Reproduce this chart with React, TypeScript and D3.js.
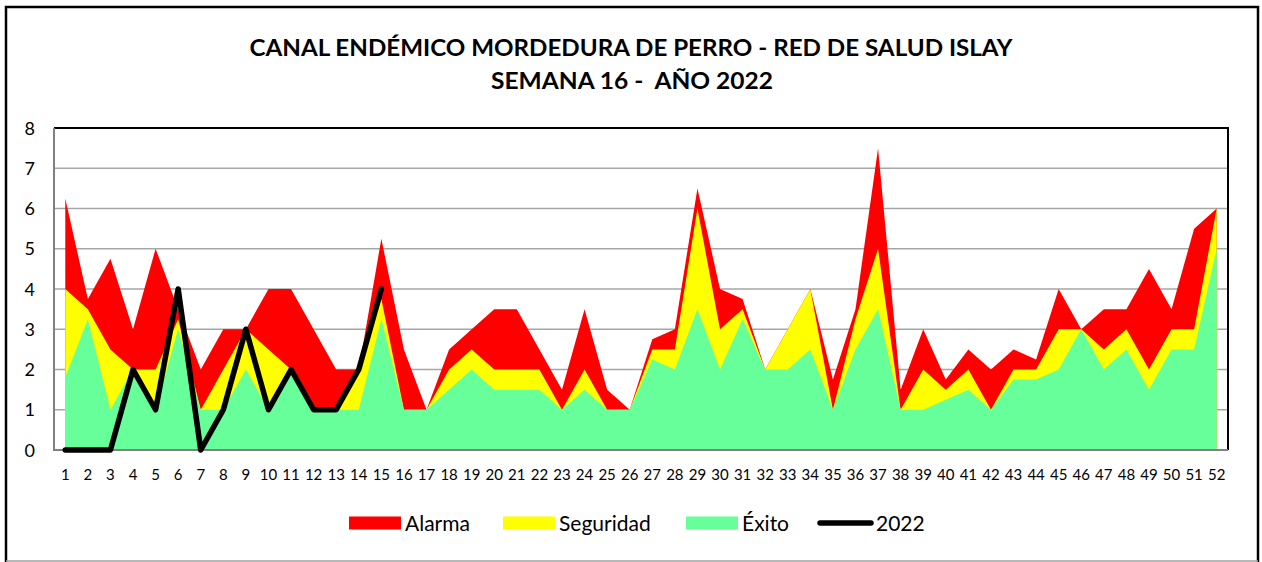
import React, { useRef, useEffect } from "react";
import * as d3 from "d3";

const weeks = d3.range(1, 53);

// tops of each band (cumulative)
const exito = [
  1.8, 3.25, 1, 2, 1, 3, 1, 1, 2, 1, 2, 1, 1, 1, 3.25, 1, 1, 1.5, 2, 1.5,
  1.5, 1.5, 1, 1.5, 1, 1, 2.25, 2, 3.5, 2, 3.25, 2, 2, 2.5, 1, 2.5, 3.5, 1,
  1, 1.25, 1.5, 1, 1.75, 1.75, 2, 3, 2, 2.5, 1.5, 2.5, 2.5, 5,
];
const seguridad = [
  4, 3.5, 2.5, 2, 2, 3.25, 1, 2, 3, 2.5, 2, 1, 1, 2, 3.75, 1, 1, 2, 2.5, 2,
  2, 2, 1, 2, 1, 1, 2.5, 2.5, 6, 3, 3.5, 2, 3, 4, 1, 3.25, 5, 1, 2, 1.5, 2,
  1, 2, 2, 3, 3, 2.5, 3, 2, 3, 3, 6,
];
const alarma = [
  6.25, 3.75, 4.75, 3, 5, 3.5, 2, 3, 3, 4, 4, 3, 2, 2, 5.25, 2.5, 1, 2.5, 3,
  3.5, 3.5, 2.5, 1.5, 3.5, 1.5, 1, 2.75, 3, 6.5, 4, 3.75, 2, 3, 4, 1.75, 3.5,
  7.5, 1.5, 3, 1.75, 2.5, 2, 2.5, 2.25, 4, 3, 3.5, 3.5, 4.5, 3.5, 5.5, 6,
];
const casos2022 = [0, 0, 0, 2, 1, 4, 0, 1, 3, 1, 2, 1, 1, 2, 4];

const yTicks = [0, 1, 2, 3, 4, 5, 6, 7, 8];

const legendItems = [
  { label: "Alarma", color: "#ff0000", type: "area" },
  { label: "Seguridad", color: "#ffff00", type: "area" },
  { label: "Éxito", color: "#66ff99", type: "area" },
  { label: "2022", color: "#000000", type: "line" },
];

const W = 1262;
const H = 562;
const FONT = "Lato, 'Open Sans', sans-serif";

const App = () => {
  const ref = useRef<SVGSVGElement | null>(null);

  useEffect(() => {
    if (!ref.current) return;
    const svg = d3.select(ref.current);
    svg.selectAll("*").remove();

    const left = 54;
    const right = 1228;
    const top = 128;
    const bottom = 450;

    const xb = d3
      .scaleBand<number>()
      .domain(weeks)
      .range([left, right]);
    const x = (w: number) => (xb(w) as number) + xb.bandwidth() / 2;
    const y = d3.scaleLinear().domain([0, 8]).range([bottom, top]);

    // outer frame
    svg
      .append("rect")
      .attr("x", 6)
      .attr("y", 7)
      .attr("width", 1252)
      .attr("height", 570)
      .attr("fill", "#fff")
      .attr("stroke", "#000")
      .attr("stroke-width", 2.5);
    svg
      .append("line")
      .attr("x1", 6)
      .attr("x2", 1258)
      .attr("y1", 561)
      .attr("y2", 561)
      .attr("stroke", "#a0a0a0")
      .attr("stroke-width", 1.5);

    // title
    const title = svg
      .append("text")
      .attr("text-anchor", "middle")
      .attr("font-family", FONT)
      .attr("font-weight", "bold")
      .attr("font-size", 23);
    title
      .append("tspan")
      .attr("x", 631)
      .attr("y", 56)
      .attr("textLength", 763)
      .attr("lengthAdjust", "spacingAndGlyphs")
      .text("CANAL ENDÉMICO MORDEDURA DE PERRO - RED DE SALUD ISLAY");
    title
      .append("tspan")
      .attr("x", 632)
      .attr("y", 89)
      .attr("textLength", 282)
      .attr("lengthAdjust", "spacingAndGlyphs")
      .attr("xml:space", "preserve")
      .text("SEMANA 16 -  AÑO 2022");

    // grid
    svg
      .append("g")
      .selectAll("line")
      .data(yTicks.filter((t) => t > 0 && t < 8))
      .enter()
      .append("line")
      .attr("x1", left)
      .attr("x2", right)
      .attr("y1", (d) => y(d))
      .attr("y2", (d) => y(d))
      .attr("stroke", "#a6a6a6")
      .attr("stroke-width", 1.5);

    // areas, drawn back to front
    const area = (vals: number[]) =>
      d3
        .area<number>()
        .x((_, i) => x(weeks[i]))
        .y0(y(0))
        .y1((d) => y(d))(vals);

    svg.append("path").attr("d", area(alarma)).attr("fill", "#ff0000");
    svg.append("path").attr("d", area(seguridad)).attr("fill", "#ffff00");
    svg.append("path").attr("d", area(exito)).attr("fill", "#66ff99");

    // plot frame
    svg
      .append("path")
      .attr("d", `M${left},${top}H${right}V${bottom}`)
      .attr("fill", "none")
      .attr("stroke", "#000")
      .attr("stroke-width", 2);
    svg
      .append("path")
      .attr("d", `M${left},${top}V${bottom}H${right}`)
      .attr("fill", "none")
      .attr("stroke", "#808080")
      .attr("stroke-width", 2);

    // 2022 line
    const line = d3
      .line<number>()
      .x((_, i) => x(weeks[i]))
      .y((d) => y(d));
    svg
      .append("path")
      .attr("d", line(casos2022))
      .attr("fill", "none")
      .attr("stroke", "#000")
      .attr("stroke-width", 5.5)
      .attr("stroke-linejoin", "round")
      .attr("stroke-linecap", "round");

    // y labels
    svg
      .append("g")
      .selectAll("text")
      .data(yTicks)
      .enter()
      .append("text")
      .attr("x", 35)
      .attr("y", (d) => y(d) + 6.5)
      .attr("text-anchor", "end")
      .attr("font-family", FONT)
      .attr("font-size", 18)
      .text((d) => d);

    // x labels
    svg
      .append("g")
      .selectAll("text")
      .data(weeks)
      .enter()
      .append("text")
      .attr("x", (d) => x(d))
      .attr("y", 480)
      .attr("text-anchor", "middle")
      .attr("font-family", FONT)
      .attr("font-size", 15)
      .text((d) => d);

    // legend
    const pos = [349, 503, 686, 818];
    const lg = svg.append("g");
    legendItems.forEach((it, i) => {
      const g = lg.append("g").attr("transform", `translate(${pos[i]},523)`);
      if (it.type === "area") {
        g.append("rect")
          .attr("x", 0)
          .attr("y", -6.5)
          .attr("width", 52)
          .attr("height", 13)
          .attr("fill", it.color);
      } else {
        g.append("line")
          .attr("x1", 2)
          .attr("x2", 53)
          .attr("y1", 0)
          .attr("y2", 0)
          .attr("stroke", it.color)
          .attr("stroke-width", 5.5)
          .attr("stroke-linecap", "round");
      }
      g.append("text")
        .attr("x", it.type === "area" ? 56 : 58)
        .attr("y", 7.5)
        .attr("font-family", FONT)
        .attr("font-size", 21)
        .text(it.label);
    });
  }, []);

  return (
    <div style={{ position: "absolute", left: 0, top: 0 }}>
      <svg ref={ref} width={W} height={H} style={{ display: "block" }} />
    </div>
  );
};

export default App;
